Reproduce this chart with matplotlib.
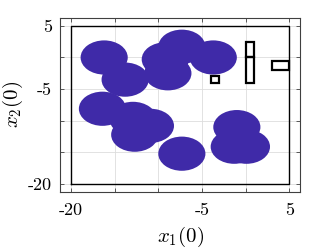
import numpy as np
import matplotlib
matplotlib.use('Agg')
import matplotlib.pyplot as plt
from matplotlib.patches import Ellipse, Rectangle

plt.rcParams['mathtext.fontset'] = 'cm'
plt.rcParams['font.family'] = 'serif'
plt.rcParams['font.serif'] = ['cmr10', 'DejaVu Serif']
plt.rcParams['axes.formatter.use_mathtext'] = True

# circle centres (x1, x2) and radius
cx = [-16.2, -13.8, -7.3, -9.2, -8.9, -3.7, -16.4, -12.9, -10.9, -12.7, -7.3, -1.0, -1.3, 0.1]
cy = [0.0, -3.5, 1.7, -0.3, -2.5, 0.0, -8.1, -9.7, -10.8, -12.2, -15.2, -11.0, -14.1, -14.1]
r = 2.7

# black rectangles (x, y, w, h)
rx = [-4, 0, 0, 3]
ry = [-4, 0, -4, -2]
rw = [1, 1, 1, 2]
rh = [1, 2.5, 4, 1.5]

xticks = [-20, -15, -10, -5, 0, 5]
xlabels = ['-20', '', '', '-5', '', '5']
yticks = [-20, -15, -10, -5, 0, 5]
ylabels = ['-20', '', '', '-5', '', '5']

fig = plt.figure(figsize=(3.32, 2.49), dpi=100)
ax = fig.add_axes([0.181, 0.229, 0.723, 0.699])

for x, y in zip(cx, cy):
    ax.add_patch(Ellipse((x, y), 2 * r, 2 * r, facecolor='#3F2AA8', edgecolor='none', zorder=2))
for x, y, w, h in zip(rx, ry, rw, rh):
    ax.add_patch(Rectangle((x, y), w, h, fill=False, edgecolor='k', lw=1.6, zorder=3))

ax.plot([-20, 5, 5, -20, -20], [-20, -20, 5, 5, -20], color='k', lw=1.0, zorder=3)

ax.set_xlim(-21.25, 6.25)
ax.set_ylim(-21.25, 6.25)
ax.set_xticks(xticks)
ax.set_xticklabels(xlabels, fontname='cmr10')
ax.set_yticks(yticks)
ax.set_yticklabels(ylabels, fontname='cmr10')
ax.grid(True, color='#DDDDDD', lw=0.6, zorder=0)
ax.set_axisbelow(True)
ax.tick_params(direction='in', top=True, right=True, length=3, width=0.6,
               color='#404040', labelsize=13)
ax.tick_params(axis='x', pad=8)
ax.tick_params(axis='y', pad=6)
for s in ax.spines.values():
    s.set_color('#404040')
    s.set_linewidth(0.8)

ax.set_xlabel(r'$x_1(0)$', fontsize=15, labelpad=5)
ax.set_ylabel(r'$x_2(0)$', fontsize=15, labelpad=2)

fig.savefig('out.png', dpi=100)
